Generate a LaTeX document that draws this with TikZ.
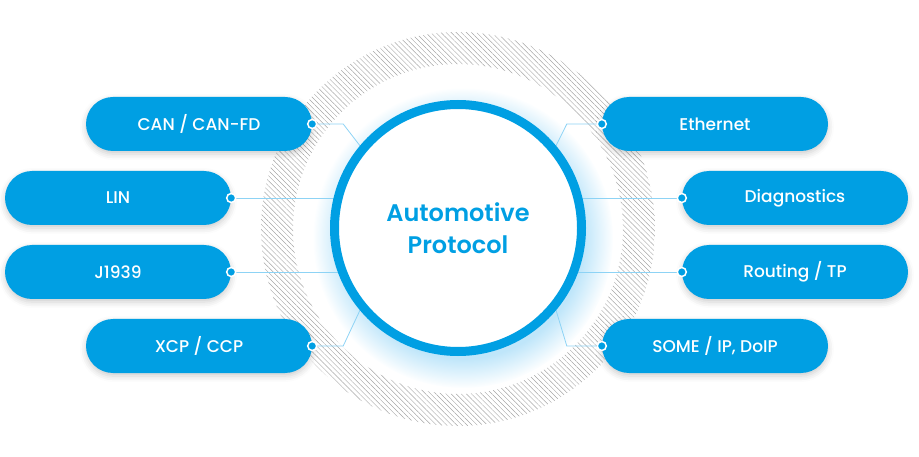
\documentclass[tikz,border=0pt]{standalone}
\usepackage{fontspec}
\setmainfont{Poppins}
\newfontfamily\pillfont{Poppins Medium}
\newfontfamily\titlefont{Poppins SemiBold}
\usetikzlibrary{patterns.meta,fadings,backgrounds,shadows.blur}
\definecolor{protoblue}{HTML}{009FE3}
\definecolor{linkblue}{HTML}{8DD3F5}
\definecolor{glowblue}{HTML}{BFE6FA}
\begin{document}
\begin{tikzpicture}[x=1pt,y=-1pt,
  pill/.style={fill=protoblue,text=white,rounded corners=27pt,
    minimum width=226pt,minimum height=54pt,font=\pillfont\fontsize{17}{20}\selectfont,
    blur shadow={shadow xshift=0pt,shadow yshift=-3pt,shadow blur radius=6pt,shadow opacity=20}},
  dot/.style={circle,fill=protoblue,draw=white,line width=1.5pt,minimum size=9pt,inner sep=0pt},
  link/.style={draw=linkblue,line width=.8pt}]
  \useasboundingbox (0,0) rectangle (919,457);
  % centre
  \node[circle,draw=protoblue,line width=9pt,fill=white,minimum size=247pt,
    text=protoblue,font=\titlefont\fontsize{24}{32}\selectfont,align=center]
    (proto) at (458,228) {Automotive\\Protocol};
  % left side
  \node[pill] (can) at (199,124) {CAN / CAN-FD};
  \node[pill] (lin) at (118,198) {LIN};
  \node[pill] (j1939) at (118,272) {J1939};
  \node[pill] (xcp) at (199,346) {XCP / CCP};
  % right side
  \node[pill] (eth) at (715,124) {Ethernet};
  \node[pill] (diag) at (795,198) {Diagnostics};
  \node[pill] (route) at (795,272) {Routing / TP};
  \node[pill] (someip) at (715,346) {SOME / IP, DoIP};
  % dots
  \node[dot] (candot) at (can.east) {};
  \node[dot] (lindot) at (lin.east) {};
  \node[dot] (jdot) at (j1939.east) {};
  \node[dot] (xcpdot) at (xcp.east) {};
  \node[dot] (ethdot) at (eth.west) {};
  \node[dot] (diagdot) at (diag.west) {};
  \node[dot] (routedot) at (route.west) {};
  \node[dot] (somedot) at (someip.west) {};
  \begin{scope}[on background layer]
    \fill[pattern={Lines[angle=-45,distance=3.6pt,line width=.45pt]},pattern color=gray!70,even odd rule]
      (458,229) circle (197) (458,229) circle (165);
    \fill[glowblue,path fading=circle with fuzzy edge 20 percent] (463,238) circle (150);
    \draw[link] (candot) -- ++(31,0) -- (proto.140);
    \draw[link] (lindot) -- (lindot -| proto.center);
    \draw[link] (jdot) -- (jdot -| proto.center);
    \draw[link] (xcpdot) -- ++(31,0) -- (proto.220);
    \draw[link] (ethdot) -- ++(-35,0) -- (proto.40);
    \draw[link] (diagdot) -- (diagdot -| proto.center);
    \draw[link] (routedot) -- (routedot -| proto.center);
    \draw[link] (somedot) -- ++(-35,0) -- (proto.-40);
  \end{scope}
\end{tikzpicture}
\end{document}
